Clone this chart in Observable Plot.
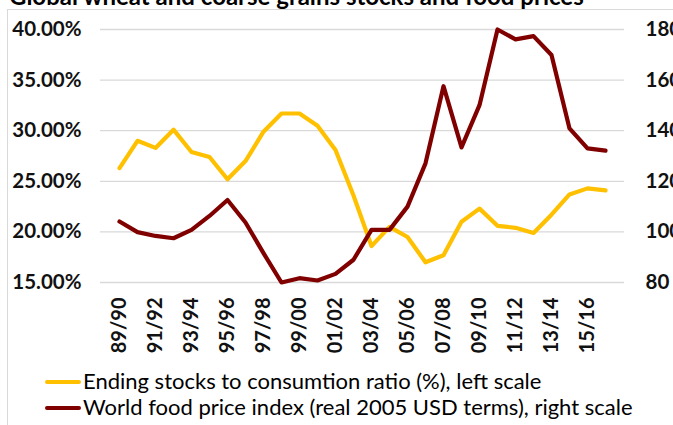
<!DOCTYPE html>
<html>
<head>
<meta charset="utf-8">
<script src="https://cdn.jsdelivr.net/npm/d3@7"></script>
<script src="https://cdn.jsdelivr.net/npm/@observablehq/plot@0.6"></script>
<style>
  html, body { margin: 0; padding: 0; background: #fff; overflow: hidden; width: 673px; height: 425px; }
  #wrap { position: relative; width: 673px; height: 425px; overflow: hidden; font-family: Lato, "Open Sans", sans-serif; }
  #frame { position: absolute; left: 7px; top: 9px; width: 800px; height: 500px; border: 1px solid #d9d9d9; box-sizing: border-box; }
  #title { position: absolute; left: 9px; top: -16px; font-size: 24px; font-weight: 700; color: #000; white-space: nowrap; line-height: 24px; }
  #chart { position: absolute; left: 0; top: 0; }
  .leg { position: absolute; left: 45px; font-size: 22px; color: #000; white-space: nowrap; line-height: 24px; }
  .leg span.sw { display: inline-block; width: 36px; height: 4px; border-radius: 2px; vertical-align: middle; margin-right: 2px; position: relative; top: -1px; }
</style>
</head>
<body>
<div id="wrap">
  <div id="frame"></div>
  <div id="title">Global wheat and coarse grains stocks and food prices</div>
  <div id="chart"></div>
  <div class="leg" id="leg1" style="top:369px"></div>
  <div class="leg" id="leg2" style="top:395px"></div>
</div>
<script>
const seasons = ["89/90","90/91","91/92","92/93","93/94","94/95","95/96","96/97","97/98","98/99","99/00","00/01","01/02","02/03","03/04","04/05","05/06","06/07","07/08","08/09","09/10","10/11","11/12","12/13","13/14","14/15","15/16","16/17"];
const stocksRatio = [26.3,29.0,28.3,30.1,27.9,27.4,25.2,27.0,29.9,31.7,31.7,30.5,28.1,23.6,18.6,20.5,19.5,17.0,17.7,21.0,22.3,20.6,20.4,19.9,21.7,23.7,24.3,24.1];
const foodPrice = [104.1,99.9,98.4,97.5,100.8,106.3,112.6,103.7,91.6,80.0,81.7,80.8,83.4,89.0,100.8,100.8,110.0,127.1,157.6,133.4,150.1,180.0,176.1,177.4,169.9,140.9,133.0,132.1];
const leftTicks = [15,20,25,30,35,40];
const rightTicks = [80,100,120,140,160,180];
const labelSeasons = seasons.filter((d,i) => i % 2 === 0 && d !== "16/17");
const seriesNames = ["Ending stocks to consumtion ratio (%), left scale", "World food price index (real 2005 USD terms), right scale"];
const colors = ["#FFC000", "#800000"];

// map right-scale values onto the left scale (80..180 -> 15..40)
const toLeft = v => 15 + (v - 80) / 4;
const fromLeft = p => 80 + (p - 15) * 4;

const stocksData = seasons.map((s,i) => ({season: s, value: stocksRatio[i]}));
const priceData = seasons.map((s,i) => ({season: s, value: toLeft(foodPrice[i])}));

const chart = Plot.plot({
  width: 673,
  height: 370,
  marginLeft: 100,
  marginRight: 49,
  marginTop: 29,
  marginBottom: 88,
  style: {fontFamily: "Lato, 'Open Sans', sans-serif", background: "transparent", overflow: "visible"},
  x: {type: "point", domain: seasons, padding: 0.55},
  y: {domain: [15, 40]},
  marks: [
    Plot.ruleY(leftTicks, {stroke: "#d9d9d9", strokeWidth: 1.3}),
    Plot.axisY(leftTicks, {anchor: "left", tickSize: 0, tickPadding: 19, tickFormat: d => d.toFixed(2) + "%", fontSize: 20.5, fontWeight: 700, fill: "#111", label: null}),
    Plot.axisY(rightTicks.map(toLeft), {anchor: "right", tickSize: 0, tickPadding: 21, tickFormat: d => String(Math.round(fromLeft(d))), fontSize: 20.5, fontWeight: 700, fill: "#111", textAnchor: "start", label: null}),
    Plot.axisX(labelSeasons, {anchor: "bottom", tickSize: 0, tickPadding: 15, tickRotate: -90, fontSize: 20, fontWeight: 700, fill: "#111", label: null}),
    Plot.line(stocksData, {x: "season", y: "value", stroke: colors[0], strokeWidth: 4.2, strokeLinejoin: "round", strokeLinecap: "round"}),
    Plot.line(priceData, {x: "season", y: "value", stroke: colors[1], strokeWidth: 4.2, strokeLinejoin: "round", strokeLinecap: "round"})
  ]
});
document.getElementById("chart").appendChild(chart);

["leg1","leg2"].forEach((id, i) => {
  const el = document.getElementById(id);
  el.innerHTML = `<span class="sw" style="background:${colors[i]}"></span>`;
  el.appendChild(document.createTextNode(seriesNames[i]));
});
</script>
</body>
</html>
